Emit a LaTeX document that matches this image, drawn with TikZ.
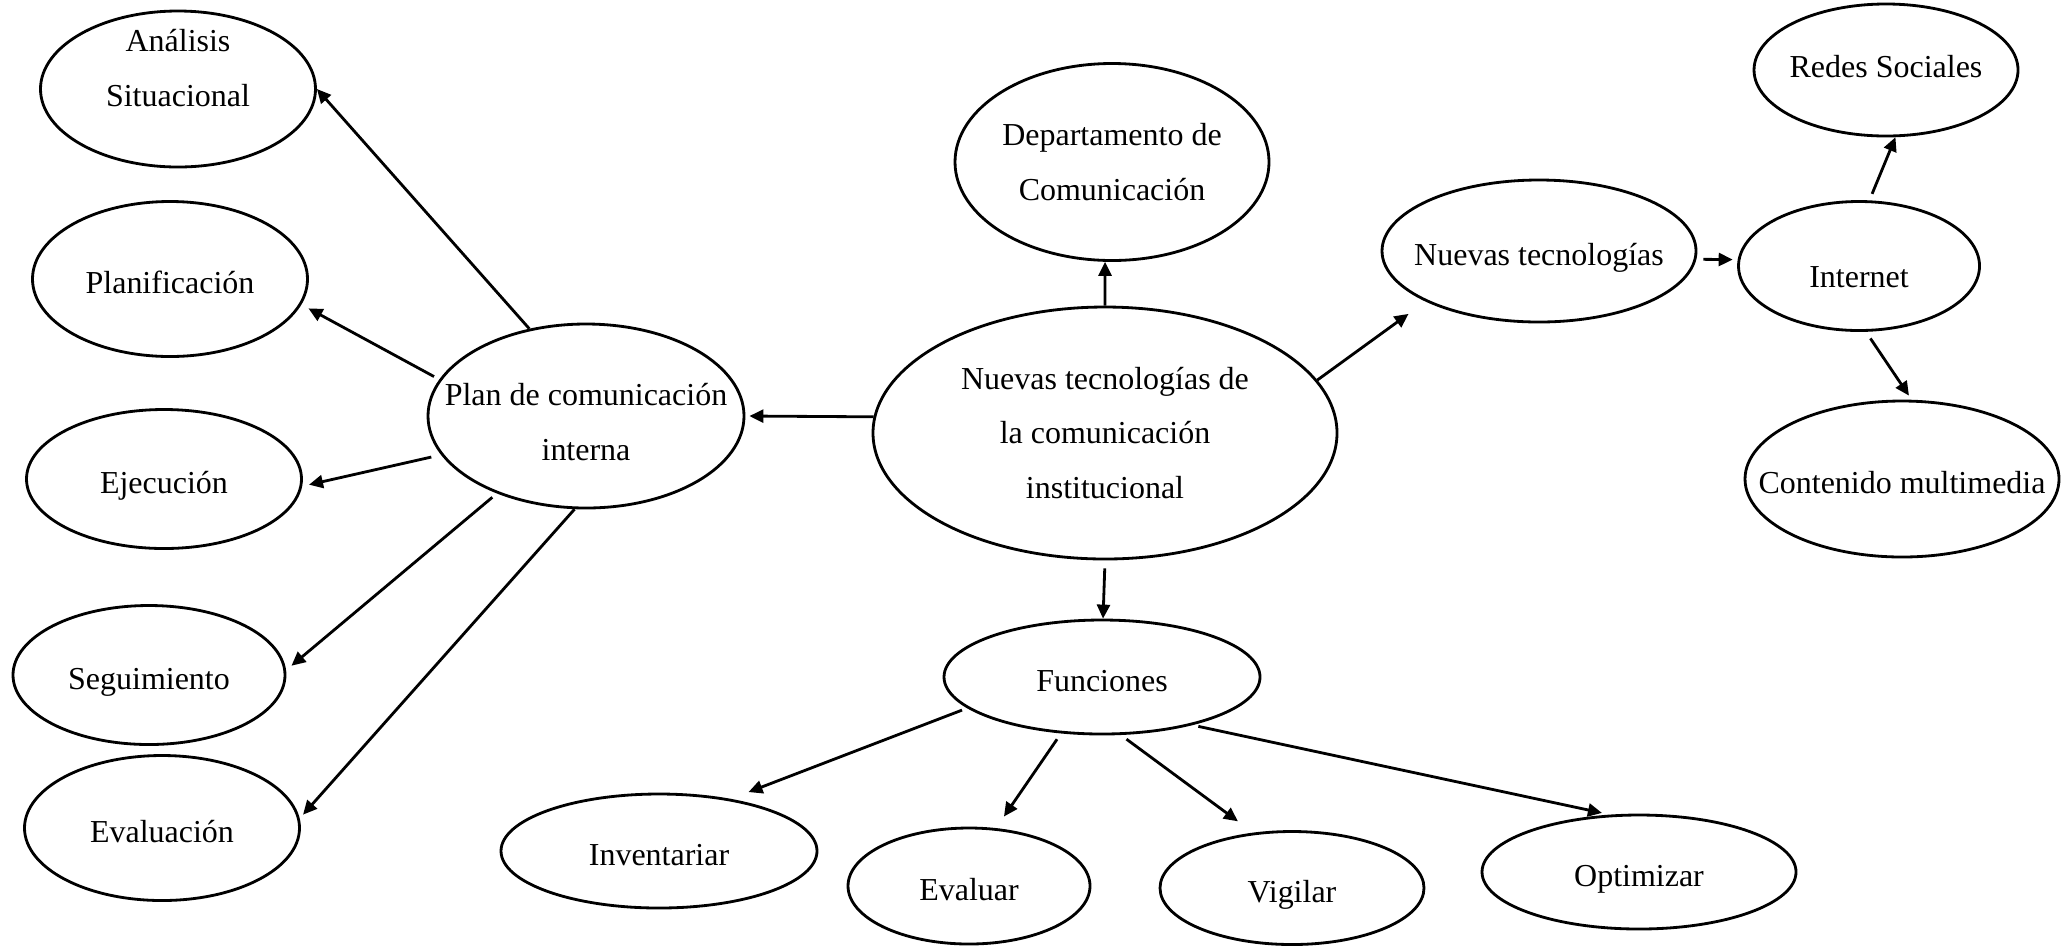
\documentclass[tikz,border=0pt]{standalone}
\usepackage{fontspec}
\setmainfont{Liberation Serif}
\usetikzlibrary{shapes,arrows.meta}
\tikzstyle{bubble} = [ellipse, draw=black, line width=0.8pt, inner xsep=-1cm, inner ysep=-1cm, align=center, font=\fontsize{9.1}{15.5}\selectfont]
\tikzstyle{oneline} = [text height=11pt, text depth=3pt]
\tikzstyle{link} = [line width=0.8pt, -{Triangle[length=0.14cm,width=0.13cm]}]

\begin{document}
\begin{tikzpicture}
                \useasboundingbox (0,0) rectangle (20.62,-9.46);
                \node[bubble, minimum width=2.75cm, minimum height=1.56cm] (analisis) at (1.78,-0.89) {Análisis\\Situacional\\[-3.5pt]\mbox{}};
                \node[bubble, oneline, minimum width=2.75cm, minimum height=1.55cm] (planif) at (1.70,-2.79) {Planificación};
                \node[bubble, oneline, minimum width=2.75cm, minimum height=1.39cm] (ejec) at (1.64,-4.79) {Ejecución};
                \node[bubble, oneline, minimum width=2.72cm, minimum height=1.39cm] (seguim) at (1.49,-6.75) {Seguimiento};
                \node[bubble, oneline, minimum width=2.75cm, minimum height=1.45cm] (evalua) at (1.62,-8.28) {Evaluación};
                \node[bubble, minimum width=3.16cm, minimum height=1.84cm] (plan) at (5.86,-4.16) {\mbox{}\\[-5.7pt]Plan de comunicación\\interna};

                \node[bubble, minimum width=4.64cm, minimum height=2.52cm] (centro) at (11.05,-4.33) {Nuevas tecnologías de\\la comunicación\\institucional};
                \node[bubble, minimum width=3.14cm, minimum height=1.97cm] (depto) at (11.12,-1.62) {Departamento de\\Comunicación};
                \node[bubble, oneline, minimum width=3.14cm, minimum height=1.42cm] (nuevas) at (15.39,-2.51) {Nuevas tecnologías};
                \node[bubble, oneline, text height=15pt, minimum width=2.41cm, minimum height=1.29cm] (internet) at (18.59,-2.66) {Internet};
                \node[bubble, oneline, text height=7pt, minimum width=2.64cm, minimum height=1.32cm] (redes) at (18.86,-0.70) {Redes Sociales};
                \node[bubble, oneline, minimum width=3.14cm, minimum height=1.56cm] (multimedia) at (19.02,-4.79) {Contenido multimedia};

                \node[bubble, oneline, minimum width=3.16cm, minimum height=1.14cm] (funciones) at (11.02,-6.77) {Funciones};
                \node[bubble, oneline, minimum width=3.16cm, minimum height=1.14cm] (inventariar) at (6.59,-8.51) {Inventariar};
                \node[bubble, oneline, minimum width=2.42cm, minimum height=1.16cm] (evaluar) at (9.69,-8.86) {Evaluar};
                \node[bubble, oneline, minimum width=2.64cm, minimum height=1.13cm] (vigilar) at (12.92,-8.88) {Vigilar};
                \node[bubble, oneline, minimum width=3.14cm, minimum height=1.14cm] (optimizar) at (16.39,-8.72) {Optimizar};

                \draw[link] (plan.123) -- (analisis.0);
                \draw[link, shorten <=0.06cm, shorten >=0.08cm] (plan.166) -- (planif.-11);
                \draw[link, shorten <=0.1cm, shorten >=0.07cm] (plan.-165) -- (ejec.-3);
                \draw[link, shorten <=0.06cm, shorten >=0.07cm] (plan.-139) -- (seguim.2);
                \draw[link, shorten >=0.05cm] (plan.-97) -- (evalua.4);

                \draw[link, shorten >=0.04cm] (centro.176) -- (plan.0);
                \draw[link] (centro.90) -- (depto.-94);
                \draw[link, shorten >=0.21cm] (centro.14) -- (nuevas.-156);
                \draw[link, shorten <=0.07cm, shorten >=0.05cm] (nuevas.-3) -- (internet.177);
                \draw[link, shorten <=0.07cm] (internet.81) -- (redes.-82);
                \draw[link, shorten <=0.08cm, shorten >=0.05cm] (internet.-84) -- (multimedia.83);
                \draw[link, shorten <=0.08cm] (centro.-90) -- (funciones.89);

                \draw[link, shorten <=0.055cm, shorten >=0.19cm] (funciones.-167) -- (inventariar.36);
                \draw[link, shorten <=0.07cm, shorten >=0.14cm] (funciones.-126) -- (evaluar.65);
                \draw[link, shorten <=0.07cm, shorten >=0.19cm] (funciones.-72) -- (vigilar.125);
                \draw[link, shorten <=0.06cm, shorten >=0.08cm] (funciones.-28) -- (optimizar.117);
            \end{tikzpicture}
\end{document}
